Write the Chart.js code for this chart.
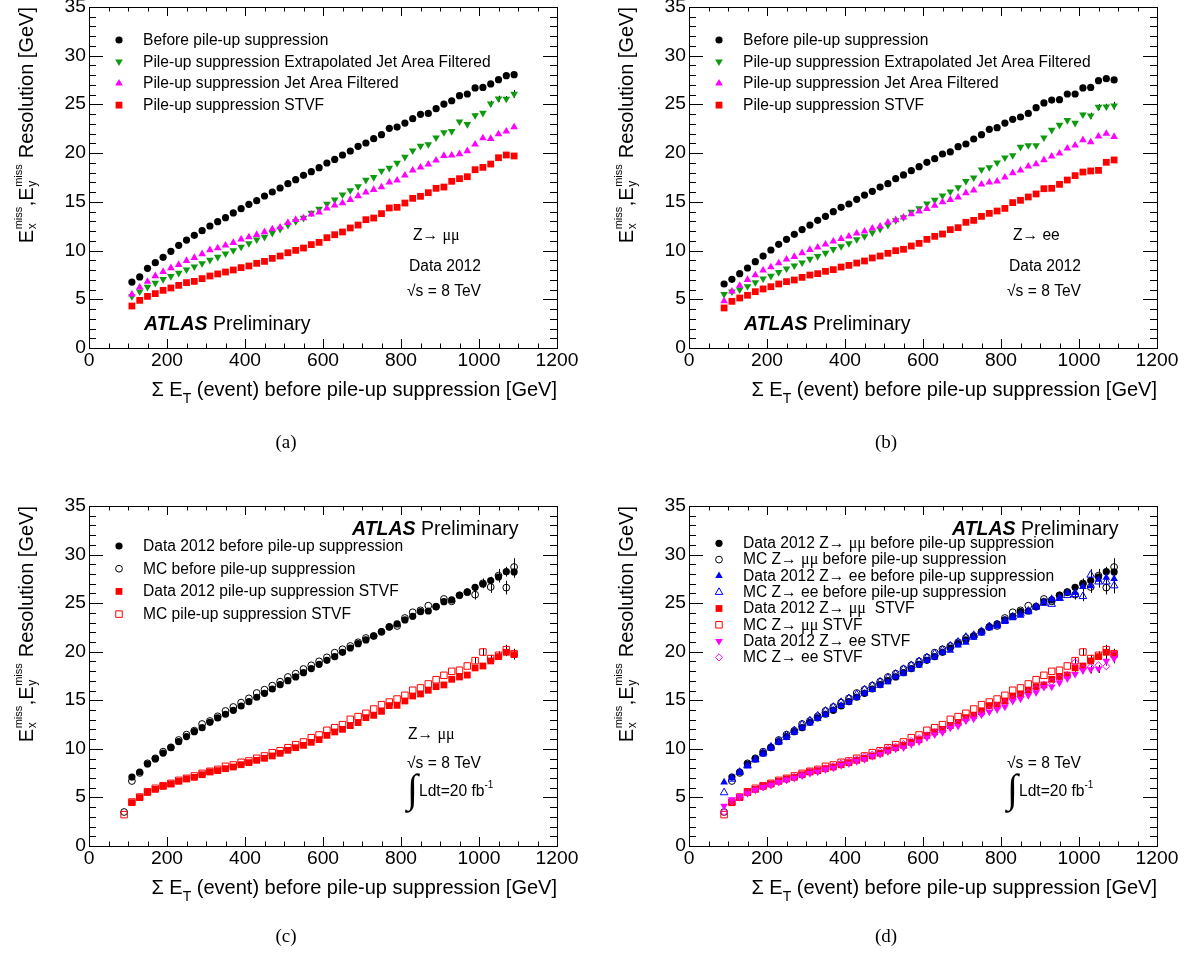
<!DOCTYPE html>
<html lang="en">
<head>
<meta charset="UTF-8">
<title>MET resolution vs sum ET</title>
<script src="https://cdn.jsdelivr.net/npm/chart.js@4/dist/chart.umd.min.js"></script>
<style>
  body { margin: 0; background: #fff; }
  #page { position: relative; width: 1193px; height: 955px; overflow: hidden; background: #fff; }
  #page canvas { position: absolute; }
</style>
</head>
<body>
<div id="page">
  <canvas id="pa" width="600" height="478" style="left:0;top:0"></canvas>
  <canvas id="pb" width="600" height="478" style="left:600px;top:0"></canvas>
  <canvas id="pc" width="600" height="457" style="left:0;top:498px"></canvas>
  <canvas id="pd" width="600" height="457" style="left:600px;top:498px"></canvas>
</div>
<script>
// bin centres of sum ET (GeV)
const et90 = [90, 110, 130, 150, 170, 190, 210, 230, 250, 270, 290, 310, 330, 350, 370, 390, 410, 430, 450, 470,
  490, 510, 530, 550, 570, 590, 610, 630, 650, 670, 690, 710, 730, 750, 770, 790, 810, 830, 850, 870,
  890, 910, 930, 950, 970, 990, 1010, 1030, 1050, 1070, 1090];
const et110 = [110, 130, 150, 170, 190, 210, 230, 250, 270, 290, 310, 330, 350, 370, 390, 410, 430, 450, 470,
  490, 510, 530, 550, 570, 590, 610, 630, 650, 670, 690, 710, 730, 750, 770, 790, 810, 830, 850, 870,
  890, 910, 930, 950, 970, 990, 1010, 1030, 1050, 1070, 1090];

// (a) Z -> mumu, data 2012
const aBefore = [6.77, 7.29, 8.18, 8.76, 9.31, 9.92, 10.54, 11.08, 11.56, 12.04,
  12.52, 12.97, 13.38, 13.86, 14.30, 14.75, 15.12, 15.60, 16.01, 16.42,
  16.87, 17.28, 17.72, 18.10, 18.51, 18.99, 19.36, 19.81, 20.22, 20.70,
  21.04, 21.48, 21.90, 22.55, 22.68, 23.09, 23.54, 23.98, 24.08, 24.56,
  25.04, 25.38, 25.90, 26.07, 26.69, 26.75, 27.10, 27.54, 27.95, 28.05];
const aExtJaf = [5.30, 5.78, 6.26, 6.67, 7.05, 7.36, 7.70, 8.04, 8.35, 8.69,
  9.03, 9.34, 9.68, 10.02, 10.37, 10.74, 11.12, 11.39, 11.80, 12.21,
  12.62, 13.00, 13.34, 13.86, 14.27, 14.78, 15.22, 15.74, 16.18, 16.59,
  17.24, 17.52, 18.17, 18.47, 18.99, 19.60, 20.25, 20.73, 20.90, 21.59,
  22.13, 22.24, 23.23, 22.96, 23.88, 24.12, 25.08, 25.59, 25.56, 26.07];
const aJaf = [5.51, 6.23, 6.81, 7.39, 7.83, 8.21, 8.55, 8.96, 9.27, 9.65,
  10.06, 10.26, 10.54, 10.81, 11.15, 11.39, 11.63, 11.91, 12.21, 12.38,
  12.86, 13.17, 13.34, 13.72, 13.92, 14.33, 14.64, 14.88, 15.22, 15.60,
  15.98, 16.25, 16.52, 17.00, 17.21, 17.72, 18.23, 18.54, 18.85, 19.26,
  19.74, 19.77, 19.91, 20.22, 20.90, 21.55, 21.48, 21.96, 22.24, 22.68];
const aStvf = [4.31, 4.89, 5.30, 5.58, 5.92, 6.16, 6.43, 6.71, 6.84, 7.12,
  7.39, 7.60, 7.80, 8.01, 8.25, 8.42, 8.69, 8.89, 9.20, 9.44,
  9.78, 10.02, 10.26, 10.61, 10.84, 11.32, 11.63, 11.91, 12.32, 12.62,
  13.17, 13.34, 13.79, 14.37, 14.44, 14.88, 15.36, 15.57, 15.94, 16.39,
  16.52, 17.11, 17.38, 17.58, 18.30, 18.54, 18.88, 19.53, 19.81, 19.71];

// (b) Z -> ee, data 2012
const bBefore = [6.57, 7.05, 7.63, 8.21, 8.86, 9.44, 10.06, 10.64, 11.15, 11.67, 12.15,
  12.62, 13.10, 13.51, 13.99, 14.44, 14.78, 15.26, 15.70, 16.08, 16.52,
  16.87, 17.38, 17.76, 18.20, 18.61, 19.06, 19.43, 19.91, 20.12, 20.66,
  20.94, 21.45, 21.90, 22.44, 22.61, 23.09, 23.47, 23.71, 24.08, 24.67,
  25.15, 25.45, 25.49, 26.07, 26.07, 26.69, 26.75, 27.44, 27.64, 27.51];
const bExtJaf = [5.51, 5.78, 5.99, 6.33, 6.74, 7.12, 7.39, 7.77, 8.14, 8.45, 8.76,
  9.13, 9.41, 9.75, 10.13, 10.43, 10.74, 11.15, 11.46, 11.84, 12.21,
  12.62, 13.10, 13.41, 13.96, 14.33, 14.81, 15.19, 15.63, 16.04, 16.49,
  17.11, 17.48, 18.30, 18.54, 19.02, 19.53, 19.77, 20.63, 20.80, 20.80,
  21.59, 22.37, 22.89, 23.37, 23.09, 23.95, 23.85, 24.73, 24.77, 24.87];
const bJaf = [4.82, 5.82, 6.40, 7.01, 7.49, 7.97, 8.31, 8.72, 9.10, 9.37, 9.75,
  10.09, 10.33, 10.64, 10.95, 11.22, 11.46, 11.77, 11.97, 12.28, 12.49,
  12.90, 13.14, 13.41, 13.75, 14.03, 14.30, 14.61, 14.98, 15.22, 15.46,
  15.91, 16.18, 16.80, 17.00, 17.11, 17.52, 17.96, 18.23, 18.65, 18.88,
  19.30, 19.67, 19.98, 20.49, 20.80, 21.35, 21.14, 21.72, 22.00, 21.69];
const bStvf = [4.11, 4.79, 5.13, 5.41, 5.78, 6.06, 6.29, 6.57, 6.81, 6.98, 7.25,
  7.49, 7.63, 7.87, 8.04, 8.31, 8.48, 8.72, 8.93, 9.24, 9.44,
  9.72, 9.99, 10.13, 10.47, 10.74, 11.15, 11.46, 11.70, 12.15, 12.35,
  12.90, 13.10, 13.51, 13.82, 14.06, 14.33, 14.92, 15.16, 15.50, 15.81,
  16.35, 16.39, 16.80, 17.24, 17.69, 18.06, 18.17, 18.23, 19.06, 19.30];

// (c),(d) Z -> mumu data and MC
const dataMuBefore = [7.10, 7.62, 8.44, 8.96, 9.57, 10.12, 10.74, 11.26, 11.77, 12.18,
  12.73, 13.18, 13.56, 13.97, 14.41, 14.86, 15.31, 15.72, 16.16, 16.61,
  17.02, 17.40, 17.84, 18.26, 18.70, 19.11, 19.49, 19.94, 20.38, 20.83,
  21.21, 21.62, 22.07, 22.55, 22.86, 23.27, 23.64, 24.12, 24.19, 24.64,
  25.15, 25.33, 25.81, 26.15, 26.63, 26.97, 27.32, 27.69, 28.24, 28.21];
const mcMuBefore = [3.50, 6.69, 7.52, 8.51, 9.03, 9.71, 10.16, 10.91, 11.46, 11.87, 12.56,
  12.87, 13.35, 13.90, 14.31, 14.76, 15.20, 15.75, 16.09, 16.51, 16.92,
  17.40, 17.74, 18.22, 18.60, 19.01, 19.42, 19.90, 20.25, 20.59, 20.97,
  21.41, 21.62, 22.03, 22.55, 22.65, 23.47, 24.06, 24.26, 24.74, 24.64,
  25.43, 25.19, 25.81, 26.12, 25.87, 27.04, 26.66, 27.83, 26.60, 28.72];
const dataMuStvf = [4.46, 4.98, 5.52, 5.83, 6.14, 6.38, 6.66, 6.90, 7.07, 7.34,
  7.62, 7.76, 7.96, 8.13, 8.37, 8.58, 8.82, 9.03, 9.27, 9.54,
  9.85, 10.12, 10.36, 10.67, 10.95, 11.39, 11.74, 12.01, 12.39, 12.70,
  13.21, 13.45, 13.86, 14.45, 14.48, 14.93, 15.44, 15.65, 16.03, 16.40,
  16.58, 17.16, 17.40, 17.60, 18.33, 18.53, 19.05, 19.49, 19.94, 19.70];
const mcMuStvf = [3.23, 4.53, 5.04, 5.59, 5.94, 6.21, 6.45, 6.76, 6.97, 7.21, 7.48,
  7.69, 7.89, 8.20, 8.34, 8.61, 8.75, 9.03, 9.27, 9.61, 9.81,
  10.12, 10.43, 10.71, 11.15, 11.43, 11.91, 12.18, 12.49, 13.04, 13.32,
  13.66, 14.10, 14.55, 14.82, 15.13, 15.51, 16.03, 16.27, 16.68, 17.12,
  17.57, 17.98, 18.09, 18.53, 19.08, 19.97, 19.29, 19.63, 20.21, 19.80];

// (d) Z -> ee MC (data ee uses the (b) series)
const mcEeBefore = [5.50, 6.90, 7.60, 8.30, 8.90, 9.60, 10.20, 10.80, 11.40, 11.90, 12.50,
  12.90, 13.40, 13.90, 14.30, 14.80, 15.20, 15.60, 16.10, 16.50, 16.90,
  17.30, 17.70, 18.20, 18.60, 19.00, 19.40, 19.80, 20.20, 20.60, 21.00,
  21.50, 21.70, 22.10, 22.60, 22.80, 23.20, 23.60, 23.90, 24.20, 24.60,
  25.00, 24.90, 25.50, 25.80, 25.90, 25.70, 27.90, 27.20, 27.20, 26.80];
const mcEeStvf = [3.50, 4.60, 5.00, 5.50, 5.80, 6.10, 6.30, 6.60, 6.80, 7.10, 7.30,
  7.60, 7.80, 8.00, 8.20, 8.50, 8.70, 8.90, 9.20, 9.40, 9.70,
  10.00, 10.20, 10.50, 10.80, 11.10, 11.40, 11.70, 11.90, 12.30, 12.60,
  13.00, 13.30, 13.60, 14.00, 14.40, 14.70, 15.10, 15.40, 15.80, 16.20,
  16.60, 16.90, 17.30, 17.60, 18.90, 18.30, 18.40, 18.60, 18.50, 19.70];

// stat. errors on the last six bins (990 ... 1090 GeV)
const errTailMcMuBefore = [0.5, 0.5, 0.6, 0.7, 0.7, 0.9];
const errTailDataMuBefore = [0.3, 0.3, 0.4, 0.5, 0.5, 0.6];
const errTailMcMuStvf = [0.3, 0.4, 0.4, 0.4, 0.5, 0.5];
const errTailDataMuStvf = [0.2, 0.3, 0.3, 0.3, 0.4, 0.5];
const errTailEeBefore = [0.4, 0.5, 0.6, 0.6, 0.7, 0.8];
const errTailEeStvf = [0.3, 0.3, 0.4, 0.4, 0.5, 0.5];
const errTailExtJaf = [0.2, 0.2, 0.3, 0.3, 0.3, 0.4];

const xTicks = [0, 200, 400, 600, 800, 1000, 1200];
const yTicks = [0, 5, 10, 15, 20, 25, 30, 35];

const SANS = '"Liberation Sans", Arial, Helvetica, sans-serif';
const SERIF = '"Liberation Serif", "Times New Roman", serif';
const GREEN = '#0e9a0e';

function pts(xs, ys) {
  return ys.map((y, i) => ({ x: xs[i], y: y }));
}

// ROOT-like markers
function marker(kind, c) {
  const open = kind[0] === 'o';
  const base = {
    pointBackgroundColor: open ? 'rgba(0,0,0,0)' : c,
    pointBorderColor: c,
    pointBorderWidth: open ? 1 : 0,
    pointRotation: 0
  };
  const shape = {
    fCircle: { pointStyle: 'circle', pointRadius: 3.6 },
    oCircle: { pointStyle: 'circle', pointRadius: 3.4 },
    fUp: { pointStyle: 'triangle', pointRadius: 4.4 },
    oUp: { pointStyle: 'triangle', pointRadius: 4.4 },
    fDown: { pointStyle: 'triangle', pointRadius: 4.4, pointRotation: 180 },
    fSquare: { pointStyle: 'rect', pointRadius: 4.8 },
    oSquare: { pointStyle: 'rect', pointRadius: 4.6 },
    oDiamond: { pointStyle: 'rectRot', pointRadius: 3.6 }
  }[kind];
  return Object.assign(base, shape);
}

function series(xs, ys, kind, color, label, tailErr) {
  return Object.assign({ data: pts(xs, ys), label: label, tailErr: tailErr || null }, marker(kind, color));
}

function hText(ctx, s, x, y, align, base, sx) {
  ctx.save();
  ctx.translate(x, y);
  ctx.scale(sx, 1);
  ctx.textAlign = align;
  ctx.textBaseline = base;
  ctx.fillText(s, 0, 0);
  ctx.restore();
}

// parts: [text, font, dy]
function rich(ctx, parts, x, y, align, base) {
  ctx.textAlign = 'left';
  ctx.textBaseline = base || 'alphabetic';
  let w = 0;
  parts.forEach(p => { ctx.font = p[1]; w += ctx.measureText(p[0]).width; });
  let cx = align === 'right' ? x - w : (align === 'center' ? x - w / 2 : x);
  parts.forEach(p => {
    ctx.font = p[1];
    ctx.fillText(p[0], cx, y + (p[2] || 0));
    cx += ctx.measureText(p[0]).width;
  });
  return w;
}

// split a label so that the greek mu is set in the symbol (serif) face
function muParts(str, size) {
  const out = [];
  str.split(/(μμ)/).forEach(s => {
    if (!s) return;
    out.push([s, (s === 'μμ' ? size + 0.5 + 'px ' + SERIF : size + 'px ' + SANS), 0]);
  });
  return out;
}

function drawMarker(ctx, ds, x, y) {
  ctx.save();
  ctx.fillStyle = ds.pointBackgroundColor;
  ctx.strokeStyle = ds.pointBorderColor;
  ctx.lineWidth = ds.pointBorderWidth || 1;
  const opt = { pointStyle: ds.pointStyle, rotation: ds.pointRotation, radius: ds.pointRadius, borderWidth: ds.pointBorderWidth };
  if (Chart.helpers && Chart.helpers.drawPoint) {
    Chart.helpers.drawPoint(ctx, opt, x, y);
  } else {
    ctx.beginPath();
    ctx.arc(x, y, ds.pointRadius, 0, Math.PI * 2);
    ctx.fill();
    if (ds.pointBorderWidth > 0) ctx.stroke();
  }
  ctx.restore();
}

function yTitle(ctx, ca) {
  const big = '20px ' + SANS, small = '11px ' + SANS, sub = '12px ' + SANS;
  const items = [['E'], ['miss', 'x'], [','], ['E'], ['miss', 'y'], [' Resolution [GeV]']];
  const widths = items.map(it => {
    if (it.length === 1) { ctx.font = big; return ctx.measureText(it[0]).width; }
    ctx.font = small; const a = ctx.measureText(it[0]).width;
    ctx.font = sub; const b = ctx.measureText(it[1]).width;
    return Math.max(a, b) + 1;
  });
  const total = widths.reduce((s, w) => s + w, 0);
  ctx.save();
  ctx.translate(33, ca.top + total);
  ctx.rotate(-Math.PI / 2);
  ctx.textAlign = 'left';
  ctx.textBaseline = 'alphabetic';
  ctx.fillStyle = '#000';
  let cx = 0;
  items.forEach((it, i) => {
    if (it.length === 1) {
      ctx.font = big; ctx.fillText(it[0], cx, 0);
    } else {
      ctx.font = small; ctx.fillText(it[0], cx + 0.5, -11);
      ctx.font = sub; ctx.fillText(it[1], cx + 0.5, 3);
    }
    cx += widths[i];
  });
  ctx.restore();
}

function xTitle(ctx, ca) {
  ctx.fillStyle = '#000';
  rich(ctx, [
    ['Σ E', '20px ' + SANS, 0],
    ['T', '14px ' + SANS, 7],
    [' (event) before pile-up suppression [GeV]', '20px ' + SANS, 0]
  ], ca.right, ca.bottom + 48, 'right');
}

function atlasLabel(ctx, x, y) {
  ctx.fillStyle = '#000';
  rich(ctx, [
    ['ATLAS', 'italic bold 19.5px ' + SANS, 0],
    [' Preliminary', '19.5px ' + SANS, 0]
  ], x, y, 'left');
}

function lumiBlock(ctx, x, y) {
  // integral sign with Ldt=20 fb^-1
  ctx.fillStyle = '#000';
  ctx.font = '40px ' + SERIF;
  ctx.textAlign = 'left';
  ctx.textBaseline = 'alphabetic';
  ctx.fillText('∫', x, y + 6);
  rich(ctx, [['Ldt=20 fb', '15.6px ' + SANS, 0], ['-1', '10px ' + SANS, -8]], x + 12, y, 'left');
}

const atlasPlugin = {
  id: 'atlas',
  beforeDatasetsDraw(chart) {
    const ctx = chart.ctx, ys = chart.scales.y;
    ctx.save();
    ctx.strokeStyle = '#000';
    ctx.lineWidth = 1;
    chart.data.datasets.forEach((ds, i) => {
      if (!ds.tailErr) return;
      const meta = chart.getDatasetMeta(i);
      const n = ds.data.length, k = ds.tailErr.length;
      ds.tailErr.forEach((e, j) => {
        const p = ds.data[n - k + j], el = meta.data[n - k + j];
        if (!el || !e) return;
        const x = Math.round(el.x) + 0.5;
        ctx.beginPath();
        ctx.moveTo(x, ys.getPixelForValue(p.y - e));
        ctx.lineTo(x, ys.getPixelForValue(p.y + e));
        ctx.stroke();
      });
    });
    ctx.restore();
  },
  afterDraw(chart, args, opts) {
    const ctx = chart.ctx, ca = chart.chartArea;
    const xs = chart.scales.x, ys = chart.scales.y;
    ctx.save();
    ctx.strokeStyle = '#000';
    ctx.lineWidth = 1;
    ctx.strokeRect(Math.round(ca.left) + 0.5, Math.round(ca.top) + 0.5,
      Math.round(ca.right - ca.left), Math.round(ca.bottom - ca.top));

    // inward ticks on all four sides
    ctx.beginPath();
    for (let v = 0; v <= 1200; v += 50) {
      const len = v % 200 === 0 ? 9 : 4.5;
      const x = Math.round(xs.getPixelForValue(v)) + 0.5;
      ctx.moveTo(x, ca.bottom); ctx.lineTo(x, ca.bottom - len);
      ctx.moveTo(x, ca.top); ctx.lineTo(x, ca.top + len);
    }
    for (let v = 0; v <= 35; v += 1) {
      const len = v % 5 === 0 ? 14 : 7;
      const y = Math.round(ys.getPixelForValue(v)) + 0.5;
      ctx.moveTo(ca.left, y); ctx.lineTo(ca.left + len, y);
      ctx.moveTo(ca.right, y); ctx.lineTo(ca.right - len, y);
    }
    ctx.stroke();

    // tick labels
    ctx.fillStyle = '#000';
    ctx.font = '18px ' + SANS;
    yTicks.forEach(v => hText(ctx, String(v), ca.left - 3, ys.getPixelForValue(v), 'right', 'middle', 1.07));
    xTicks.forEach(v => hText(ctx, String(v), xs.getPixelForValue(v), ca.bottom + 4, 'center', 'top', 1.07));

    xTitle(ctx, ca);
    yTitle(ctx, ca);

    // legend
    const lg = opts.legend;
    chart.data.datasets.forEach((ds, i) => {
      const y = lg.y0 + i * lg.dy;
      drawMarker(ctx, ds, lg.mx, y);
      ctx.fillStyle = '#000';
      rich(ctx, muParts(ds.label, 15.6), lg.tx, y + 0.5, 'left', 'middle');
    });

    // annotations
    opts.notes.forEach(n => {
      ctx.fillStyle = '#000';
      rich(ctx, muParts(n.t, 15.6), n.x, n.y, 'left');
    });
    if (opts.lumi) lumiBlock(ctx, opts.lumi.x, opts.lumi.y);
    atlasLabel(ctx, opts.atlas.x, opts.atlas.y);

    ctx.font = '19px ' + SERIF;
    ctx.textAlign = 'center';
    ctx.textBaseline = 'middle';
    ctx.fillText(opts.caption.t, 286, opts.caption.y);
    ctx.restore();
  }
};

function panel(id, datasets, opts) {
  // later entries are painted on top
  datasets.forEach((ds, i) => { ds.order = -i; });
  return new Chart(document.getElementById(id), {
    type: 'scatter',
    data: { datasets: datasets },
    options: {
      responsive: false,
      animation: false,
      devicePixelRatio: 1,
      layout: { padding: { left: 89, right: 43, top: opts.top, bottom: opts.bottom }, autoPadding: false },
      scales: {
        x: { type: 'linear', min: 0, max: 1200, display: false },
        y: { type: 'linear', min: 0, max: 35, display: false }
      },
      plugins: { legend: { display: false }, tooltip: { enabled: false }, atlas: opts }
    },
    plugins: [atlasPlugin]
  });
}

const topPad = { top: 7, bottom: 130 };
const lowPad = { top: 8, bottom: 109 };

panel('pa', [
  series(et110, aBefore, 'fCircle', '#000', 'Before pile-up suppression'),
  series(et110, aExtJaf, 'fDown', GREEN, 'Pile-up suppression Extrapolated Jet Area Filtered', errTailExtJaf),
  series(et110, aJaf, 'fUp', '#ff00ff', 'Pile-up suppression Jet Area Filtered'),
  series(et110, aStvf, 'fSquare', '#ff0000', 'Pile-up suppression STVF')
], Object.assign({
  legend: { mx: 119, tx: 143, y0: 40, dy: 21.7 },
  notes: [{ t: 'Z→ μμ', x: 413, y: 240 }, { t: 'Data 2012', x: 409, y: 271 }, { t: '√s = 8 TeV', x: 407, y: 296 }],
  atlas: { x: 144, y: 330 },
  caption: { t: '(a)', y: 443 }
}, topPad));

panel('pb', [
  series(et90, bBefore, 'fCircle', '#000', 'Before pile-up suppression'),
  series(et90, bExtJaf, 'fDown', GREEN, 'Pile-up suppression Extrapolated Jet Area Filtered', errTailExtJaf),
  series(et90, bJaf, 'fUp', '#ff00ff', 'Pile-up suppression Jet Area Filtered'),
  series(et90, bStvf, 'fSquare', '#ff0000', 'Pile-up suppression STVF')
], Object.assign({
  legend: { mx: 119, tx: 143, y0: 40, dy: 21.7 },
  notes: [{ t: 'Z→ ee', x: 413, y: 240 }, { t: 'Data 2012', x: 409, y: 271 }, { t: '√s = 8 TeV', x: 407, y: 296 }],
  atlas: { x: 144, y: 330 },
  caption: { t: '(b)', y: 443 }
}, topPad));

panel('pc', [
  series(et110, dataMuBefore, 'fCircle', '#000', 'Data 2012 before pile-up suppression', errTailDataMuBefore),
  series(et90, mcMuBefore, 'oCircle', '#000', 'MC before pile-up suppression', errTailMcMuBefore),
  series(et110, dataMuStvf, 'fSquare', '#ff0000', 'Data 2012 pile-up suppression STVF', errTailDataMuStvf),
  series(et90, mcMuStvf, 'oSquare', '#ff0000', 'MC pile-up suppression STVF', errTailMcMuStvf)
], Object.assign({
  legend: { mx: 119, tx: 143, y0: 48, dy: 22.7 },
  notes: [{ t: 'Z→ μμ', x: 408, y: 241 }, { t: '√s = 8 TeV', x: 407, y: 270 }],
  lumi: { x: 407, y: 298 },
  atlas: { x: 352, y: 37 },
  caption: { t: '(c)', y: 439 }
}, lowPad));

panel('pd', [
  series(et110, dataMuBefore, 'fCircle', '#000', 'Data 2012 Z→ μμ before pile-up suppression', errTailDataMuBefore),
  series(et90, mcMuBefore, 'oCircle', '#000', 'MC Z→ μμ before pile-up suppression', errTailMcMuBefore),
  series(et90, bBefore, 'fUp', '#0000ff', 'Data 2012 Z→ ee before pile-up suppression', errTailEeBefore),
  series(et90, mcEeBefore, 'oUp', '#0000ff', 'MC Z→ ee before pile-up suppression', errTailEeBefore),
  series(et110, dataMuStvf, 'fSquare', '#ff0000', 'Data 2012 Z→ μμ  STVF', errTailDataMuStvf),
  series(et90, mcMuStvf, 'oSquare', '#ff0000', 'MC Z→ μμ STVF', errTailMcMuStvf),
  series(et90, bStvf, 'fDown', '#ff00ff', 'Data 2012 Z→ ee STVF', errTailEeStvf),
  series(et90, mcEeStvf, 'oDiamond', '#ff00ff', 'MC Z→ ee STVF')
], Object.assign({
  legend: { mx: 119, tx: 143, y0: 45.3, dy: 16.3 },
  notes: [{ t: '√s = 8 TeV', x: 407, y: 270 }],
  lumi: { x: 407, y: 298 },
  atlas: { x: 352, y: 37 },
  caption: { t: '(d)', y: 439 }
}, lowPad));
</script>
</body>
</html>
